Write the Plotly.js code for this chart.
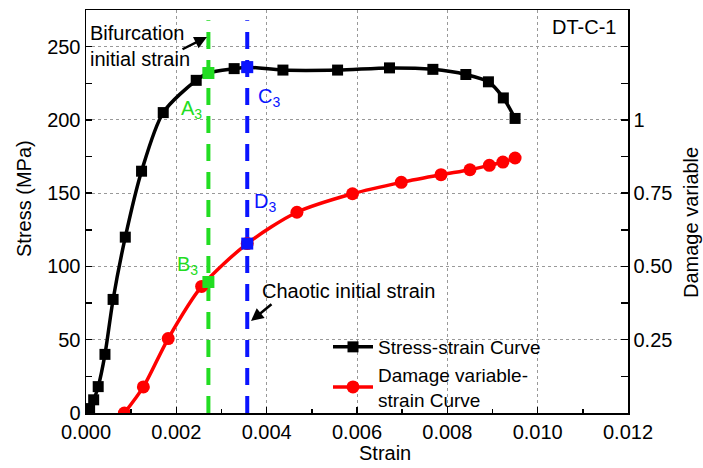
<!DOCTYPE html>
<html>
<head>
<meta charset="utf-8">
<script src="https://cdn.plot.ly/plotly-3.0.1.min.js"></script>
<style>html,body{margin:0;padding:0;background:#fff;}#chart{width:703px;height:468px;}</style>
</head>
<body>
<div id="chart"></div>
<script>
// ---- data ----
const stressStrain = [0.00008, 0.00017, 0.00027, 0.00042, 0.0006, 0.00087, 0.00123, 0.00171, 0.00244, 0.00271, 0.00328, 0.00357, 0.00436, 0.00557, 0.00672, 0.00768, 0.00841, 0.00891, 0.00924, 0.0095];
const stressValues = [3, 9, 18, 40, 77.5, 120, 165, 205, 227, 232, 235, 236, 234, 234, 235.5, 234.5, 231, 226, 215, 201];

const damageStrain = [0.00085, 0.00127, 0.00182, 0.00256, 0.00357, 0.00467, 0.0059, 0.00698, 0.00786, 0.0085, 0.00893, 0.00923, 0.0095];
const damageValues = [0.0, 0.089, 0.254, 0.432, 0.578, 0.685, 0.748, 0.787, 0.813, 0.83, 0.845, 0.856, 0.87];

const bifurcationStrain = 0.00271;   // A3 / B3
const chaoticStrain = 0.00357;       // C3 / D3
const pointA3 = 232, pointC3 = 236;  // stress (MPa)
const pointB3 = 0.447, pointD3 = 0.578; // damage variable
const guideTop = 268;

const xTickVals = [0, 0.002, 0.004, 0.006, 0.008, 0.010, 0.012];
const y2TickVals = [0.25, 0.5, 0.75, 1, 1.25];
const y2TickText = ['0.25', '0.50', '0.75', '1', ''];
const y2MinorVals = [0.125, 0.375, 0.625, 0.875, 1.125];

// ---- layout helpers (pixel -> paper) ----
const L = 86, R = 628, T = 10, B = 413;
const px = X => (X - L) / (R - L);
const py = Y => (B - Y) / (B - T);

const FONT = 'Liberation Sans, Arial, sans-serif';
const GREEN = '#22dd22', BLUE = '#0a14ff', RED = '#ff0000';

const traces = [
  {x: [bifurcationStrain, bifurcationStrain], y: [0, guideTop], mode: 'lines', showlegend: false, hoverinfo: 'skip',
   line: {color: GREEN, width: 4, dash: '17px,11px'}},
  {x: [chaoticStrain, chaoticStrain], y: [0, guideTop], mode: 'lines', showlegend: false, hoverinfo: 'skip',
   line: {color: BLUE, width: 4, dash: '17px,11px'}},
  {x: stressStrain, y: stressValues, mode: 'lines+markers', name: 'Stress-strain Curve',
   line: {color: '#000', width: 3.5, shape: 'spline', smoothing: 0.8},
   marker: {symbol: 'square', size: 11, color: '#000'}},
  {x: damageStrain, y: damageValues, yaxis: 'y2', mode: 'lines+markers', name: 'Damage variable-<br>strain Curve',
   line: {color: RED, width: 3.5, shape: 'spline', smoothing: 0.8},
   marker: {symbol: 'circle', size: 13, color: RED}},
  {x: [bifurcationStrain], y: [pointA3], mode: 'markers', showlegend: false, marker: {symbol: 'square', size: 12, color: GREEN}},
  {x: [chaoticStrain], y: [pointC3], mode: 'markers', showlegend: false, marker: {symbol: 'square', size: 12, color: BLUE}},
  {x: [bifurcationStrain], y: [pointB3], yaxis: 'y2', mode: 'markers', showlegend: false, marker: {symbol: 'square', size: 12, color: GREEN}},
  {x: [chaoticStrain], y: [pointD3], yaxis: 'y2', mode: 'markers', showlegend: false, marker: {symbol: 'square', size: 12, color: BLUE}}
];

const ann = (text, X, Y, opts) => Object.assign({xref: 'paper', yref: 'paper', x: px(X), y: py(Y), text: text,
  showarrow: false, font: {family: FONT, size: 20, color: '#000'}}, opts || {});

const layout = {
  width: 703, height: 468,
  margin: {l: L, r: 703 - R, t: T, b: 468 - B, pad: 0},
  paper_bgcolor: '#fff', plot_bgcolor: '#fff',
  font: {family: FONT, size: 20, color: '#000'},
  showlegend: true,
  legend: {x: px(328), y: py(328), xanchor: 'left', yanchor: 'top', bgcolor: 'rgba(0,0,0,0)',
           font: {family: FONT, size: 19, color: '#000'}, tracegroupgap: 0, itemwidth: 40},
  xaxis: {range: [0, 0.012], tickvals: xTickVals, tickformat: '.3f', ticks: 'inside', ticklen: 6, tickwidth: 1.5,
          tickcolor: '#000', showline: true, linecolor: '#000', linewidth: 1.5, mirror: true,
          showgrid: true, gridcolor: '#999', griddash: 'dot', gridwidth: 1, zeroline: false,
          minor: {dtick: 0.001, ticks: 'inside', ticklen: 4, tickcolor: '#000', showgrid: false},
          tickfont: {family: FONT, size: 20}},
  yaxis: {range: [0, 275], dtick: 50, tick0: 0, ticks: 'inside', ticklen: 6, tickwidth: 1.5, tickcolor: '#000',
          showline: true, linecolor: '#000', linewidth: 1.5, mirror: true,
          showgrid: true, gridcolor: '#999', griddash: 'dot', gridwidth: 1, zeroline: false,
          minor: {dtick: 25, tick0: 0, ticks: 'inside', ticklen: 6, tickcolor: '#000', showgrid: false},
          tickfont: {family: FONT, size: 20}},
  yaxis2: {overlaying: 'y', side: 'right', range: [0, 1.375], tickmode: 'array', tickvals: y2TickVals, ticktext: y2TickText,
           ticks: 'inside', ticklen: 7, tickwidth: 1.5, tickcolor: '#000', showline: true, linecolor: '#000', linewidth: 1.5,
           showgrid: false, zeroline: false,
           minor: {tickvals: y2MinorVals, ticks: 'inside', ticklen: 7, tickcolor: '#000', showgrid: false},
           tickfont: {family: FONT, size: 20}},
  annotations: [
    ann('Bifurcation<br>initial strain', 88, 20, {xanchor: 'left', yanchor: 'top', align: 'left'}),
    {xref: 'paper', yref: 'paper', x: px(207), y: py(37), ax: -26, ay: 13, text: '', showarrow: true,
     arrowhead: 2, arrowsize: 1, arrowwidth: 2.5, arrowcolor: '#000'},
    ann('Chaotic initial strain', 260, 291, {xanchor: 'left', yanchor: 'middle'}),
    {xref: 'paper', yref: 'paper', x: px(251), y: py(321), ax: 22, ay: -18, text: '', showarrow: true,
     arrowhead: 2, arrowsize: 1, arrowwidth: 2.5, arrowcolor: '#000'},
    ann('DT-C-1', 618, 27, {xanchor: 'right', yanchor: 'middle'}),
    ann('A<sub>3</sub>', 179, 109, {xanchor: 'left', yanchor: 'middle', font: {family: FONT, size: 20, color: GREEN}}),
    ann('C<sub>3</sub>', 256, 97, {xanchor: 'left', yanchor: 'middle', font: {family: FONT, size: 20, color: BLUE}}),
    ann('D<sub>3</sub>', 252, 202, {xanchor: 'left', yanchor: 'middle', font: {family: FONT, size: 20, color: BLUE}}),
    ann('B<sub>3</sub>', 175, 265, {xanchor: 'left', yanchor: 'middle', font: {family: FONT, size: 20, color: GREEN}}),
    ann('Strain', 385, 453, {xanchor: 'center', yanchor: 'middle'}),
    ann('Stress (MPa)', 24, 199, {xanchor: 'center', yanchor: 'middle', textangle: -90}),
    ann('Damage variable', 691, 223, {xanchor: 'center', yanchor: 'middle', textangle: -90})
  ]
};

Plotly.newPlot('chart', traces, layout, {displayModeBar: false, staticPlot: true});
</script>
</body>
</html>
